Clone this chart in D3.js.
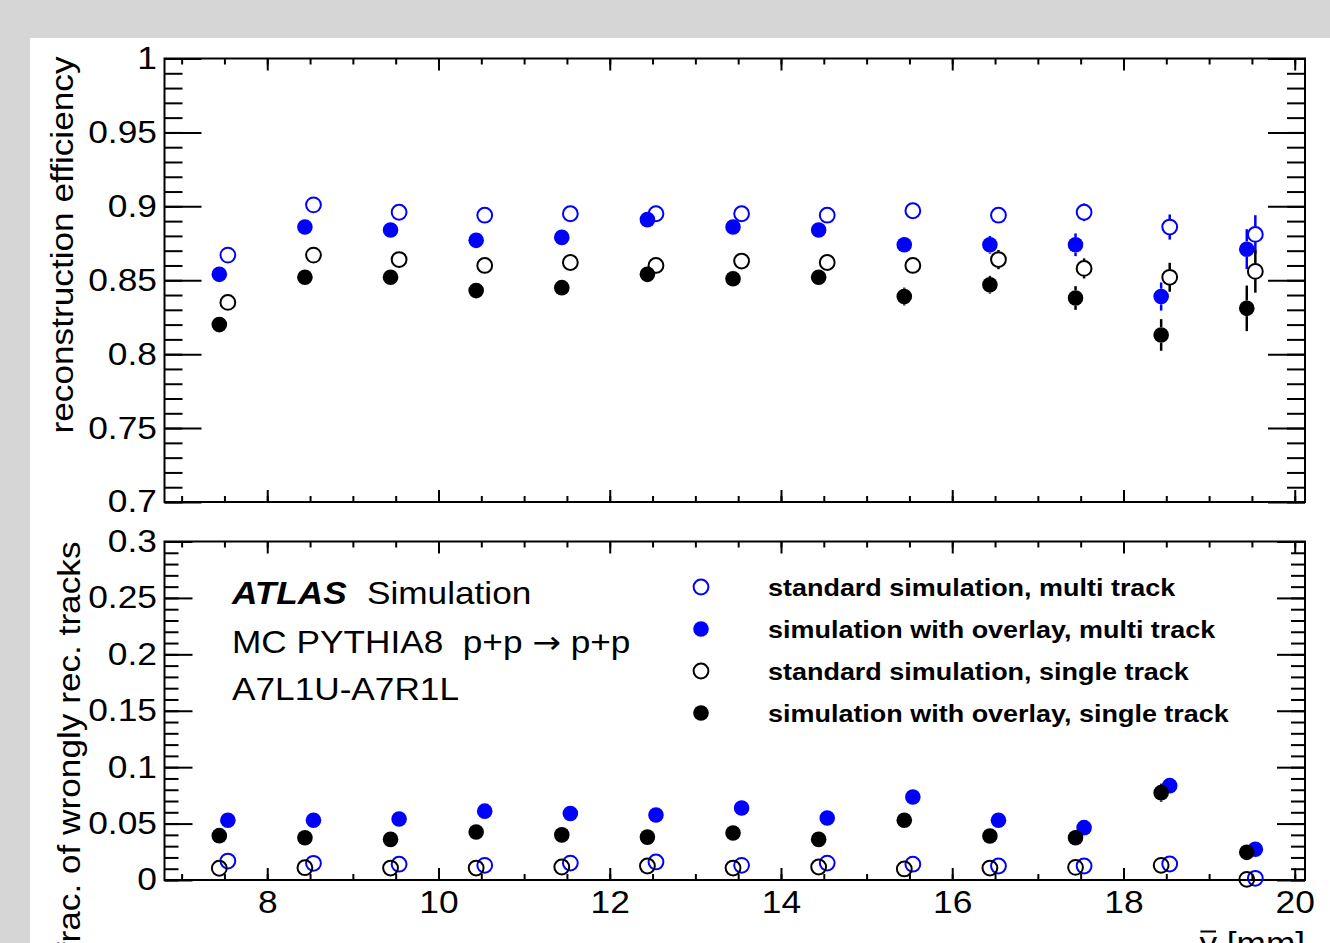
<!DOCTYPE html>
<html>
<head>
<meta charset="utf-8">
<script src="https://cdn.jsdelivr.net/npm/d3@7"></script>
<style>
  body { margin: 0; background: #d6d6d6; }
  svg { display: block; }
  text { font-family: "Liberation Sans", Arial, Helvetica, sans-serif; fill: #000; }
</style>
</head>
<body>
<svg id="chart" width="1330" height="943"></svg>
<script>
// Bin centres of the mean y position [mm]
const binCenters = [7.5, 8.5, 9.5, 10.5, 11.5, 12.5, 13.5, 14.5, 15.5, 16.5, 17.5, 18.5, 19.5];

// Reconstruction efficiency
const effStdMulti   = [0.867, 0.901, 0.896, 0.894, 0.895, 0.895, 0.895, 0.894, 0.897, 0.894, 0.896, 0.886, 0.881];
const effOvlMulti   = [0.854, 0.886, 0.884, 0.877, 0.879, 0.891, 0.886, 0.884, 0.874, 0.874, 0.874, 0.839, 0.871];
const effStdSingle  = [0.835, 0.867, 0.864, 0.860, 0.862, 0.860, 0.863, 0.862, 0.860, 0.864, 0.858, 0.852, 0.856];
const effOvlSingle  = [0.820, 0.852, 0.852, 0.843, 0.845, 0.854, 0.851, 0.852, 0.839, 0.847, 0.838, 0.813, 0.831];
const effErrStdMulti  = [0.002, 0.002, 0.002, 0.002, 0.002, 0.002, 0.002, 0.003, 0.003, 0.003, 0.006, 0.0085, 0.013];
const effErrOvlMulti  = [0.003, 0.003, 0.003, 0.003, 0.003, 0.003, 0.003, 0.003, 0.004, 0.006, 0.0077, 0.0095, 0.0135];
const effErrStdSingle = [0.003, 0.003, 0.003, 0.003, 0.003, 0.003, 0.003, 0.003, 0.005, 0.0065, 0.0068, 0.0098, 0.0144];
const effErrOvlSingle = [0.003, 0.003, 0.003, 0.003, 0.003, 0.003, 0.003, 0.004, 0.006, 0.006, 0.008, 0.0107, 0.0154];

// Fraction of wrongly reconstructed tracks
const fakeStdMulti  = [0.0168, 0.0148, 0.0140, 0.0130, 0.0150, 0.0160, 0.0130, 0.0150, 0.0140, 0.0124, 0.0124, 0.0142, 0.0015];
const fakeOvlMulti  = [0.0529, 0.0530, 0.0540, 0.0610, 0.0590, 0.0576, 0.0638, 0.0550, 0.0736, 0.0530, 0.0464, 0.0836, 0.0272];
const fakeStdSingle = [0.0104, 0.0109, 0.0106, 0.0106, 0.0115, 0.0124, 0.0106, 0.0115, 0.0098, 0.0106, 0.0112, 0.0130, 0.0006];
const fakeOvlSingle = [0.0393, 0.0375, 0.0360, 0.0426, 0.0400, 0.0380, 0.0417, 0.0360, 0.0530, 0.0390, 0.0375, 0.0774, 0.0245];
const fakeErrStdMulti  = [0.002, 0.002, 0.002, 0.002, 0.002, 0.002, 0.002, 0.002, 0.002, 0.002, 0.002, 0.003, 0.002];
const fakeErrOvlMulti  = [0.003, 0.003, 0.003, 0.003, 0.003, 0.003, 0.003, 0.003, 0.003, 0.003, 0.004, 0.007, 0.004];
const fakeErrStdSingle = [0.002, 0.002, 0.002, 0.002, 0.002, 0.002, 0.002, 0.002, 0.002, 0.002, 0.002, 0.003, 0.002];
const fakeErrOvlSingle = [0.003, 0.003, 0.003, 0.003, 0.003, 0.003, 0.003, 0.003, 0.003, 0.003, 0.004, 0.008, 0.004];

// Series descriptions (drawing order = legend order)
const seriesNames  = ["standard simulation, multi track", "simulation with overlay, multi track",
                      "standard simulation, single track", "simulation with overlay, single track"];
const seriesColors = ["#0000ff", "#0000ff", "#000000", "#000000"];
const seriesFilled = [false, true, false, true];
// small horizontal displacement of each series in mm, per panel
const effShift  = [0.04, -0.06, 0.04, -0.06];
const fakeShift = [0.04, 0.04, -0.06, -0.06];

// Axis ticks
const xMajorTicks = [8, 10, 12, 14, 16, 18, 20];
const xMinorTicks = d3.range(7, 20.01, 0.5);
const effMajorTicks = [0.7, 0.75, 0.8, 0.85, 0.9, 0.95, 1];
const effMinorTicks = d3.range(70, 101, 1).map(v => v / 100);
const fakeMajorTicks = [0, 0.05, 0.1, 0.15, 0.2, 0.25, 0.3];
const fakeMinorTicks = d3.range(0, 31, 1).map(v => v / 100);

// ---------------------------------------------------------------
const svg = d3.select("#chart");
const STRETCH = 1.1;
const TICK_STRETCH = 1.14;

svg.append("rect").attr("width", 1330).attr("height", 943).attr("fill", "#d6d6d6");
svg.append("rect").attr("x", 30).attr("y", 38).attr("width", 1300).attr("height", 905).attr("fill", "#fff");

const left = 164.5, right = 1305;
const topPanel = { y0: 58.5, y1: 502 };
const botPanel = { y0: 541.5, y1: 880 };

const x = d3.scaleLinear().domain([6.8, 20.12]).range([left, right]);
const yEff = d3.scaleLinear().domain([0.7, 1]).range([topPanel.y1, topPanel.y0]);
const yFake = d3.scaleLinear().domain([0, 0.3]).range([botPanel.y1, botPanel.y0]);

function fmt(v) { return d3.format("~g")(+v.toFixed(3)); }

function drawAxes(panel, y, majorY, minorY, yMajLen, yMinLen, showX) {
  const g = svg.append("g");
  const add = (axis, tx, ty) => {
    const a = g.append("g").attr("transform", `translate(${tx},${ty})`).call(axis);
    a.select(".domain").remove();
    a.selectAll("line").attr("stroke", "#000").attr("stroke-width", 2);
    return a;
  };
  // x ticks, bottom and top edges
  add(d3.axisBottom(x).tickValues(xMinorTicks).tickSize(-6).tickFormat(() => ""), 0, panel.y1);
  add(d3.axisTop(x).tickValues(xMinorTicks).tickSize(-6).tickFormat(() => ""), 0, panel.y0);
  const xb = add(d3.axisBottom(x).tickValues(xMajorTicks).tickSize(-12).tickPadding(11)
                 .tickFormat(showX ? d3.format("d") : () => ""), 0, panel.y1);
  add(d3.axisTop(x).tickValues(xMajorTicks).tickSize(-12).tickFormat(() => ""), 0, panel.y0);
  xb.selectAll("text").attr("font-size", 31).attr("font-family", null).classed("tick-label", true);
  // y ticks, left and right edges
  add(d3.axisLeft(y).tickValues(minorY).tickSize(-yMinLen).tickFormat(() => ""), left, 0);
  add(d3.axisRight(y).tickValues(minorY).tickSize(-yMinLen).tickFormat(() => ""), right, 0);
  const yl = add(d3.axisLeft(y).tickValues(majorY).tickSize(-yMajLen).tickPadding(7.5).tickFormat(fmt), left, 0);
  add(d3.axisRight(y).tickValues(majorY).tickSize(-yMajLen).tickFormat(() => ""), right, 0);
  yl.selectAll("text").attr("font-size", 31).attr("font-family", null).classed("tick-label", true);
  // frame
  g.append("rect").attr("x", left).attr("y", panel.y0)
    .attr("width", right - left).attr("height", panel.y1 - panel.y0)
    .attr("fill", "none").attr("stroke", "#000").attr("stroke-width", 2);
}

drawAxes(topPanel, yEff, effMajorTicks, effMinorTicks, 37, 18, false);
drawAxes(botPanel, yFake, fakeMajorTicks, fakeMinorTicks, 28, 14, true);

const R = 7.8;
const RO = 7.4;   // open marker radius (stroke centre)
function drawSeries(y, values, errors, shift, k) {
  const g = svg.append("g");
  const col = seriesColors[k];
  const pts = binCenters.map((c, i) => ({ x: x(c + shift[k]), y: y(values[i]),
                                          hi: y(values[i] + errors[i]), lo: y(values[i] - errors[i]) }));
  // error bars, left open where the marker sits
  pts.forEach(p => {
    if (p.y - p.hi > R) g.append("line").attr("x1", p.x).attr("x2", p.x).attr("y1", p.hi).attr("y2", p.y - R)
      .attr("stroke", col).attr("stroke-width", 2.5);
    if (p.lo - p.y > R) g.append("line").attr("x1", p.x).attr("x2", p.x).attr("y1", p.y + R).attr("y2", p.lo)
      .attr("stroke", col).attr("stroke-width", 2.5);
  });
  g.selectAll("circle").data(pts).join("circle")
    .attr("cx", d => d.x).attr("cy", d => d.y)
    .attr("r", seriesFilled[k] ? R : RO)
    .attr("fill", seriesFilled[k] ? col : "none")
    .attr("stroke", col).attr("stroke-width", seriesFilled[k] ? 0 : 2);
}

const effSeries = [effStdMulti, effOvlMulti, effStdSingle, effOvlSingle];
const effErrs = [effErrStdMulti, effErrOvlMulti, effErrStdSingle, effErrOvlSingle];
const fakeSeries = [fakeStdMulti, fakeOvlMulti, fakeStdSingle, fakeOvlSingle];
const fakeErrs = [fakeErrStdMulti, fakeErrOvlMulti, fakeErrStdSingle, fakeErrOvlSingle];
effSeries.forEach((s, k) => drawSeries(yEff, s, effErrs[k], effShift, k));
fakeSeries.forEach((s, k) => drawSeries(yFake, s, fakeErrs[k], fakeShift, k));

// Axis titles
svg.append("text").attr("transform", `translate(73,${topPanel.y0 - 2}) rotate(-90)`)
  .attr("text-anchor", "end").attr("font-size", 32).text("reconstruction efficiency");
svg.append("text").attr("transform", `translate(80,${botPanel.y0}) rotate(-90)`)
  .attr("text-anchor", "end").attr("font-size", 32).text("frac. of wrongly rec. tracks");
const xTitle = svg.append("text").attr("x", right).attr("y", 954)
  .attr("text-anchor", "end").attr("font-size", 32).text("y [mm]");

// Labels in the lower panel
svg.append("text").attr("x", 232).attr("y", 604).attr("font-size", 32)
  .attr("font-weight", "bold").attr("font-style", "italic").text("ATLAS");
svg.append("text").attr("x", 367).attr("y", 604).attr("font-size", 32).text("Simulation");
const proc = svg.append("text").attr("x", 232).attr("y", 653).attr("font-size", 32);
proc.append("tspan").text("MC PYTHIA8\u00a0\u00a0p+p ");
proc.append("tspan").attr("font-family", "DejaVu Sans").attr("font-size", 31).text("\u2192");
proc.append("tspan").text(" p+p");
svg.append("text").attr("x", 232).attr("y", 700).attr("font-size", 32).text("A7L1U-A7R1L");

// Legend
const legY = d3.scalePoint().domain(seriesNames).range([587, 713]);
seriesNames.forEach((name, k) => {
  svg.append("circle").attr("cx", 701).attr("cy", legY(name))
    .attr("r", seriesFilled[k] ? R : RO)
    .attr("fill", seriesFilled[k] ? seriesColors[k] : "none")
    .attr("stroke", seriesColors[k]).attr("stroke-width", seriesFilled[k] ? 0 : 2);
  svg.append("text").attr("x", 768).attr("y", legY(name)).attr("dy", "0.36em")
    .attr("font-size", 24.5).attr("font-weight", "bold").text(name);
});

// Widen glyphs slightly to follow the wide sans-serif face of the plot
svg.selectAll("text").each(function () {
  const len = this.getComputedTextLength();
  const f = this.classList.contains("tick-label") ? TICK_STRETCH : STRETCH;
  if (len > 0) d3.select(this).attr("textLength", len * f).attr("lengthAdjust", "spacingAndGlyphs");
});

// Bar over the "y" of the x-axis title
{
  const node = xTitle.node();
  const p0 = node.getStartPositionOfChar(0);
  const p1 = node.getEndPositionOfChar(0);
  svg.append("line").attr("x1", p0.x + 1).attr("x2", p1.x - 1).attr("y1", 931.5).attr("y2", 931.5)
    .attr("stroke", "#000").attr("stroke-width", 2);
}
</script>
</body>
</html>
